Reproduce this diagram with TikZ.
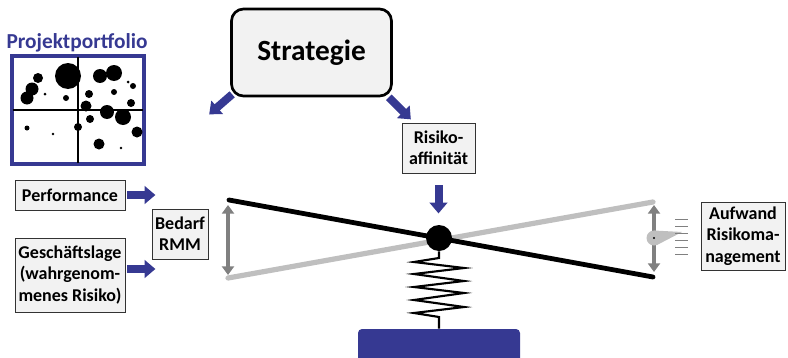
\documentclass[tikz,border=0pt]{standalone}
\usepackage{fontspec}
\setmainfont{Carlito}
\usetikzlibrary{arrows.meta}
\definecolor{rblue}{RGB}{54,57,146}
\definecolor{boxfill}{RGB}{242,242,242}
\definecolor{beamgray}{RGB}{191,191,191}
\definecolor{dgray}{RGB}{128,128,128}
\begin{document}
\begin{tikzpicture}[x=0.75pt,y=-0.75pt,
  txt/.style={font=\fontsize{13.5}{16}\selectfont\bfseries, align=center},
  box/.style={txt, draw=black!80, line width=0.6pt, fill=boxfill, inner sep=0pt},
  bluearrow/.style={draw=rblue, line width=6pt, -{Triangle[length=8pt,width=13pt]}},
  gdarrow/.style={draw=dgray, line width=3.6pt, {Triangle[length=6.5pt,width=9pt]}-{Triangle[length=6.5pt,width=9pt]}},
  beam/.style={line width=3.6pt, line cap=round},
  spring/.style={line width=1.6pt, line join=miter},
]
\useasboundingbox (0,0) rectangle (788,357);

% --- project portfolio ---
\node[font=\fontsize{16}{18}\selectfont\bfseries, text=rblue] (pftitle) at (77,43) {Projektportfolio};
\node[draw=rblue, line width=3pt, minimum width=132*0.75pt, minimum height=108*0.75pt, inner sep=0pt] (pf) at (78,110) {};
\draw[line width=0.8pt, shorten <=2pt, shorten >=2pt] (pf.west) -- (pf.east);
\draw[line width=0.8pt, shorten <=2pt, shorten >=2pt] (pf.north) -- (pf.south);
\foreach \cx/\cy/\r in {68/76/13, 38/78/5, 32/89/6.5, 27/98/6.5, 45/94/1.5, 66/98/3,
  100/76/7, 114/73/8, 128/82/1.5, 133/86/3, 89/94/4, 114/92/3, 86/106/5.5, 131/103/4,
  107/112/7, 123/117/8, 90/119/4, 78/127/4, 27/128/2.5, 53/134/1.3, 137/132/5.5,
  99/144/5.5, 121/148/1.3}
  \fill (\cx,\cy) circle (\r);

% --- strategy and its arrows ---
\node[draw=black, line width=2pt, fill=boxfill, rounded corners=9pt,
  minimum width=160*0.75pt, minimum height=87*0.75pt,
  font=\fontsize{22}{24}\selectfont\bfseries] (strat) at (311.5,52.5) {Strategie};
\draw[bluearrow] ([shift={(2,-3)}]strat.south west) -- ++(-23,20);
\draw[bluearrow] ([shift={(-4,0)}]strat.south east) -- ++(22,22);

% --- input boxes ---
\node[box, minimum width=110*0.75pt, minimum height=30*0.75pt] (perf) at (70,195) {Performance};
\node[box, minimum width=110*0.75pt, minimum height=74*0.75pt] (lage) at (70,275) {Geschäftslage\\(wahrgenom-\\menes Risiko)};
\node[box, minimum width=56*0.75pt, minimum height=50*0.75pt] (bedarf) at (180,234) {Bedarf\\RMM};
\node[box, minimum width=73*0.75pt, minimum height=50*0.75pt] (affin) at (438.5,148) {Risiko-\\affinität};
\node[box, minimum width=84*0.75pt, minimum height=68*0.75pt] (aufwand) at (743,236) {Aufwand\\Risikoma-\\nagement};

\draw[bluearrow] ([shift={(2,0)}]perf.east) -- ++(28,0);
\draw[bluearrow] ([shift={(2,-6)}]lage.east) -- ++(28,0);

% --- balance beam ---
\coordinate (bl) at (229,200);
\coordinate (br) at (653,277);
\coordinate (gl) at (228,278);
\coordinate (gr) at (653,202);
\draw[beam, beamgray, line width=3.9pt] (gl) -- (gr);
\draw[beam, black] (bl) -- (br);
\draw[gdarrow] (228,205) -- (228,275);
\draw[gdarrow] (654,205) -- (654,272);

% --- pivot, spring and base ---
\node[circle, fill=black, minimum size=26*0.75pt, inner sep=0pt] (pivot) at (439,238) {};
\draw[bluearrow] ([shift={(0,12)}]affin.south) -- ++(0,28);
\begin{scope}
  \clip (0,0) rectangle (788,357);
  \node[fill=rblue, rounded corners=3pt, minimum width=162*0.75pt, minimum height=34*0.75pt, inner sep=0pt] (base) at (439,346) {};
\end{scope}
\draw[spring] (pivot.south) -- (439,258) -- (414,262) -- (464,268) -- (414,274) -- (464,281)
  -- (414,287) -- (464,293) -- (414,300) -- (464,307) -- (414,313) -- (439,317) -- (base.north);

% --- gauge on the right ---
\fill[beamgray] (654,230.5) -- (682,232) -- (657,245) -- cycle;
\node[circle, fill=beamgray, minimum size=15*0.75pt, inner sep=0pt] (gauge) at (654,238) {};
\fill[black] (gauge.center) circle (1.1);
\foreach \ty in {219,226,233,240,247,254}
  \draw[dgray, line width=0.6pt] (675,\ty) -- (688,\ty);
\end{tikzpicture}
\end{document}
